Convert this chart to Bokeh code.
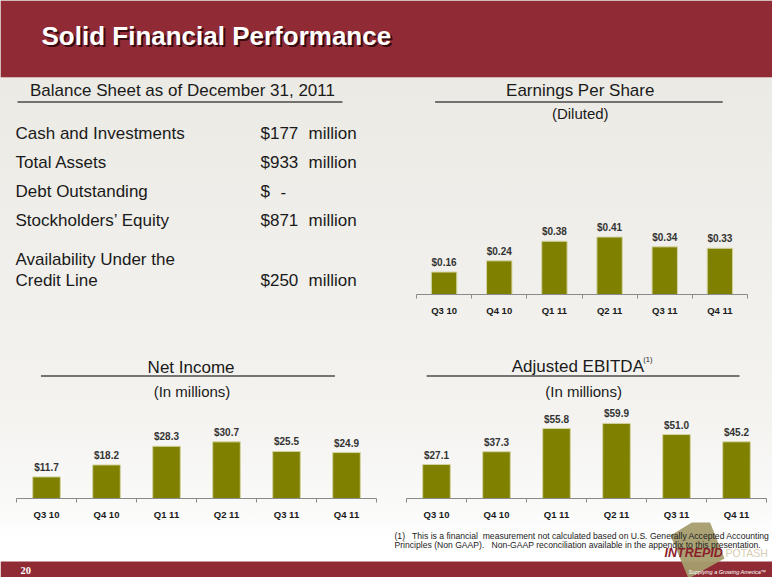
from bokeh.plotting import figure
from bokeh.layouts import column, row
from bokeh.models import Range1d, ColumnDataSource, LabelSet, FixedTicker, Label
from bokeh.core.properties import value
from bokeh.embed import file_html
from bokeh.resources import INLINE

# ---------------- data ----------------
quarters = ["Q3 10", "Q4 10", "Q1 11", "Q2 11", "Q3 11", "Q4 11"]
eps_diluted = [0.16, 0.24, 0.38, 0.41, 0.34, 0.33]
net_income_musd = [11.7, 18.2, 28.3, 30.7, 25.5, 24.9]
adj_ebitda_musd = [27.1, 37.3, 55.8, 59.9, 51.0, 45.2]

balance_items = ["Cash and Investments", "Total Assets", "Debt Outstanding",
                 "Stockholders\u2019 Equity", "Availability Under the\nCredit Line"]
balance_amounts = [177, 933, None, 871, 250]
balance_unit = "million"

# ---------------- style ----------------
FONT = "Liberation Sans"
RED = "#902B35"
OLIVE = "#7F7F00"
INK = "#1a1a1a"
W = 772
NB = "\u00a0"


def deco(x0, x1, y0, y1, bg=None):
    p = figure(width=x1 - x0, height=y1 - y0, x_range=Range1d(x0, x1), y_range=Range1d(y1, y0),
               output_backend="svg", toolbar_location=None, x_axis_location=None,
               y_axis_location=None, min_border=0)
    p.xgrid.visible = False
    p.ygrid.visible = False
    p.outline_line_color = None
    p.background_fill_color = bg
    p.border_fill_color = bg
    return p


def txt(p, x, y, s, size, color=INK, align="left", style="normal", font=FONT, alpha=1.0):
    # y is the intended baseline (in a top-down pixel range)
    p.add_layout(Label(x=x, y=y - 0.35 * size, text=s, text_font=font,
                       text_font_size=f"{size}px", text_font_style=style, text_color=color,
                       text_align=align, text_baseline="alphabetic", text_alpha=alpha))


def bars(values, fmt, width, height, left, right, bottom, y_end):
    centers = list(range(1, len(quarters) + 1))
    src = ColumnDataSource(dict(x=centers, top=values, label=[fmt.format(v) for v in values]))
    p = figure(width=width, height=height, x_range=Range1d(0.5, len(quarters) + 0.5),
               y_range=Range1d(0, y_end), output_backend="svg", toolbar_location=None,
               y_axis_location=None, min_border_left=left, min_border_right=right,
               min_border_top=0, min_border_bottom=bottom)
    p.vbar(x="x", top="top", bottom=0, width=0.46, source=src, fill_color=OLIVE,
           line_color="#D4D4A2", line_width=1)
    p.add_layout(LabelSet(x="x", y="top", text="label", source=src, y_offset=6,
                          text_align="center", text_baseline="alphabetic",
                          text_font=value(FONT), text_font_style="bold",
                          text_font_size="10px", text_color="#333333"))
    ax = p.xaxis[0]
    ax.ticker = FixedTicker(ticks=centers,
                            minor_ticks=[c - 0.5 for c in centers] + [centers[-1] + 0.5])
    ax.major_label_overrides = {c: q for c, q in zip(centers, quarters)}
    ax.axis_line_color = "#8a8a8a"
    ax.major_tick_line_color = None
    ax.major_tick_in = 0
    ax.major_tick_out = 0
    ax.minor_tick_line_color = "#8a8a8a"
    ax.minor_tick_in = 0
    ax.minor_tick_out = 4
    ax.major_label_standoff = 6
    ax.major_label_text_font = FONT
    ax.major_label_text_font_size = "9.5px"
    ax.major_label_text_font_style = "bold"
    ax.major_label_text_color = INK
    p.xgrid.visible = False
    p.ygrid.visible = False
    p.outline_line_color = None
    p.background_fill_color = None
    p.border_fill_color = None
    return p


# ---------------- top banner ----------------
banner = deco(0, W, 0, 78)
banner.quad(left=0, right=W, top=0, bottom=77, fill_color=RED, line_color=None)
banner.quad(left=0, right=W, top=77, bottom=78, fill_color="#E6E0D3", line_color=None)
txt(banner, 43, 47, "Solid Financial Performance", 26, color="#2a0508", style="bold", alpha=0.85)
txt(banner, 41, 45, "Solid Financial Performance", 26, color="#FFFFFF", style="bold")

# ---------------- balance sheet ----------------
left = deco(0, 398, 78, 318)
txt(left, 182, 96, "Balance Sheet as of December 31, 2011", 17, align="center")
left.segment(x0=[17], y0=[101.5], x1=[342], y1=[101.5], line_color="#4a4a4a", line_width=1.5)
row_base = [139, 168, 197, 226, 286]
for item, amt, base in zip(balance_items, balance_amounts, row_base):
    lines = item.split("\n")
    for k, ln in enumerate(lines):
        txt(left, 15, base - (len(lines) - 1 - k) * 21.5, ln, 17)
    if amt is None:
        txt(left, 260, base, "$", 17)
        txt(left, 280, base, "-", 17)
    else:
        txt(left, 260, base, f"${amt}", 17)
        txt(left, 308, base, balance_unit, 17)

# ---------------- EPS ----------------
eps_title = deco(398, W, 78, 130)
txt(eps_title, 583, 96, "Earnings Per Share", 17, align="center")
eps_title.segment(x0=[419], y0=[101.5], x1=[744], y1=[101.5], line_color="#4a4a4a", line_width=1.5)
txt(eps_title, 583, 118, "(Diluted)", 15, align="center")
eps_chart = bars(eps_diluted, "${:.2f}", 374, 188, 18, 25, 23, 165 / 141)

# ---------------- Net income ----------------
ni_title = deco(0, 398, 318, 400)
txt(ni_title, 193, 373, "Net Income", 17, align="center")
ni_title.segment(x0=[27], y0=[375.5], x1=[352], y1=[375.5], line_color="#4a4a4a", line_width=1.5)
txt(ni_title, 194, 396, "(In millions)", 15, align="center")
ni_chart = bars(net_income_musd, "${:.1f}", 398, 122, 16, 22, 20, 102 / 1.92)

# ---------------- Adjusted EBITDA ----------------
eb_title = deco(398, W, 318, 400)
txt(eb_title, 576, 371.5, "Adjusted EBITDA", 17, align="center")
txt(eb_title, 644, 362, "(1)", 7.5)
eb_title.segment(x0=[419], y0=[375.5], x1=[744], y1=[375.5], line_color="#4a4a4a", line_width=1.5)
txt(eb_title, 582, 396, "(In millions)", 15, align="center")
eb_chart = bars(adj_ebitda_musd, "${:.1f}", 374, 122, 8, 6, 20, 102 / 1.305)

# ---------------- bottom band ----------------
bottom = deco(0, W, 522, 577)
bottom.quad(left=0, right=W, top=561, bottom=577, fill_color=RED, line_color=None)
bottom.patch(x=[670, 706, 724, 688], y=[535, 513, 558, 578], fill_color="#A59D6E",
             fill_alpha=0.95, line_color=None)
txt(bottom, 394, 538.5,
    f"(1){NB}{NB} This is a financial{NB} measurement not calculated based on U.S. Generally Accepted Accounting",
    8.6, color="#222222")
txt(bottom, 394, 548,
    f"Principles (Non GAAP).{NB}{NB} Non-GAAP reconciliation available in the appendix to this presentation.",
    8.6, color="#222222")
txt(bottom, 664, 556.5, "INTREPID", 12.5, color="#8B1E2B", style="bold italic")
txt(bottom, 725, 556.5, "POTASH", 10.5, color="#D6CDB2")
txt(bottom, 688, 573.5, "Supplying a Growing America\u2122", 5.5, color="#FFFFFF", style="italic")
txt(bottom, 20, 573.5, "20", 10.5, color="#FFFFFF", style="bold", font="Liberation Serif")

layout = column(
    banner,
    row(left, column(eps_title, eps_chart)),
    row(column(ni_title, ni_chart), column(eb_title, eb_chart)),
    bottom,
    styles={"background": "linear-gradient(to bottom, #ECEAE4 0px, #ECEAE4 80px, "
                          "#F0EFEB 260px, #F4F3F0 420px, #FAFAF9 510px, #FFFFFF 540px)"},
)

open("out.html", "w").write(file_html(layout, INLINE))
